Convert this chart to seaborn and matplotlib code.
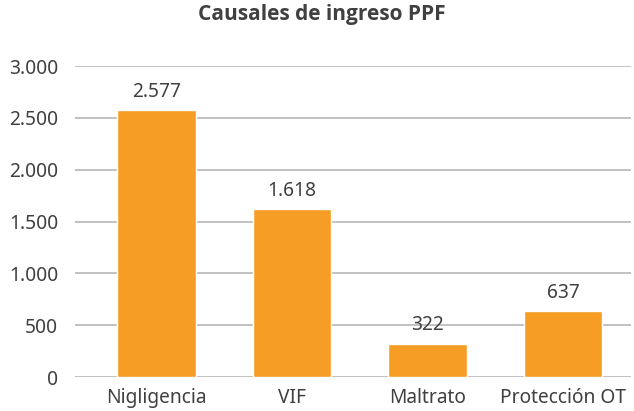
import matplotlib
matplotlib.use('Agg')
import matplotlib.pyplot as plt
import seaborn as sns
import pandas as pd
from matplotlib.ticker import FuncFormatter

categorias = ['Nigligencia', 'VIF', 'Maltrato', 'Protección OT']
casos = [2577, 1618, 322, 637]
yticks = [0, 500, 1000, 1500, 2000, 2500, 3000]


def miles(v, pos=None):
    return f'{int(v):,}'.replace(',', '.')


sns.set_style('white')
plt.rcParams['font.family'] = ['Noto Sans', 'DejaVu Sans']

df = pd.DataFrame({'Causal': categorias, 'Casos': casos})

fig = plt.figure(figsize=(6.34, 4.11), dpi=100)
ax = fig.add_axes([0.118, 0.0827, 0.877, 0.7567])

sns.barplot(data=df, x='Causal', y='Casos', color='#F59D24', width=0.58,
            saturation=1, ax=ax, zorder=3)

ax.set_ylim(0, 3000)
ax.set_xlim(-0.605, 3.5)
ax.set_yticks(yticks)
ax.yaxis.set_major_formatter(FuncFormatter(miles))
ax.grid(axis='y', color='#B0B0B0', linewidth=1.1, zorder=0)
ax.set_axisbelow(True)
for s in ax.spines.values():
    s.set_visible(False)
ax.tick_params(axis='both', length=0, labelsize=13.8, colors='#404040')
ax.tick_params(axis='x', pad=8)
ax.tick_params(axis='y', pad=12)
ax.set_xlabel('')
ax.set_ylabel('')

ax.bar_label(ax.containers[0], labels=[miles(v) for v in casos],
             padding=6, fontsize=13.8, color='#404040')

fig.suptitle('Causales de ingreso PPF', x=0.508, y=0.99, fontsize=15,
             fontweight='bold', color='#404040',
             family=['Open Sans', 'DejaVu Sans'])

fig.savefig('out.png', dpi=100)
